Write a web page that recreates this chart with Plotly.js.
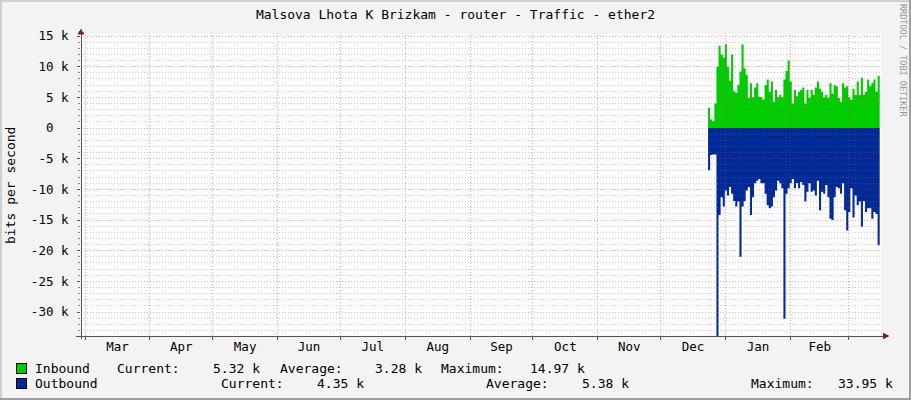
<!DOCTYPE html>
<html>
<head>
<meta charset="utf-8">
<script src="https://cdn.plot.ly/plotly-3.0.1.min.js"></script>
<style>
html,body{margin:0;padding:0;background:#f3f3f3;}
#chart{width:911px;height:400px;}
.shapelayer path{shape-rendering:crispEdges;}
</style>
</head>
<body>
<div id="chart"></div>
<script>
// ---- data (kbit/s, one sample per day) ----
const seriesStartUTC = [2012, 11, 23, 16]; // 2012-12-23 16:00
const inbound = [3.3,1.4,1.1,4.0,10.0,13.4,12.0,11.5,13.6,10.0,
  7.7,12.0,6.0,5.7,7.0,9.2,13.6,9.7,8.7,4.9,
  7.3,5.0,6.6,7.3,5.1,5.0,4.6,7.0,7.9,5.9,
  7.6,4.3,6.2,5.0,5.4,5.0,7.9,9.3,11.0,7.6,
  4.0,6.2,5.2,5.9,6.2,6.6,4.0,6.2,4.9,6.2,
  5.4,6.6,7.6,6.4,5.9,5.0,5.4,4.9,7.3,5.6,
  7.0,6.8,4.9,4.3,7.3,6.6,6.8,5.0,4.6,6.4,
  5.4,7.6,5.4,8.2,5.4,5.9,7.9,6.8,7.3,7.9,
  5.9,8.5,5.3];
const outbound = [-6.9,-4.4,-4.3,-4.3,-33.9,-14.2,-11.3,-12.8,-10.2,-11.0,
  -9.6,-10.7,-11.9,-12.8,-12.0,-21.0,-12.8,-11.9,-10.2,-9.6,
  -14.2,-11.3,-9.0,-8.6,-8.3,-9.0,-9.0,-10.7,-12.6,-13.1,
  -12.8,-11.3,-10.2,-8.6,-9.0,-9.8,-31.1,-10.7,-9.8,-9.0,
  -8.3,-9.8,-9.0,-9.8,-8.8,-9.3,-12.0,-10.4,-9.0,-10.4,
  -10.2,-11.0,-8.6,-13.4,-10.4,-10.7,-9.3,-11.3,-14.8,-15.0,
  -11.3,-9.6,-9.8,-10.7,-9.0,-13.4,-16.7,-13.7,-9.8,-14.6,
  -11.0,-12.6,-12.0,-16.1,-11.9,-13.7,-13.1,-13.1,-14.8,-13.7,
  -14.0,-19.1,-14.8];
const monthLabels = ['Mar','Apr','May','Jun','Jul','Aug','Sep','Oct','Nov','Dec','Jan','Feb'];
const firstMonth = [2012, 2]; // March 2012
const yTickVals = [15,10,5,0,-5,-10,-15,-20,-25,-30];
const yTickText = ['15 k','10 k','5 k','0\u00a0\u00a0','-5 k','-10 k','-15 k','-20 k','-25 k','-30 k'];
const titleText = 'Malsova Lhota K Brizkam - router - Traffic - ether2';
const yTitle = 'bits per second';
const legendRows = [
  {name:'Inbound',  color:'#00cc00', items:[['Current:','5.32 k'],['Average:','3.28 k'],['Maximum:','14.97 k']]},
  {name:'Outbound', color:'#002a97', items:[['Current:','4.35 k'],['Average:','5.38 k'],['Maximum:','33.95 k']]}
];

// ---- layout geometry ----
const W = 911, H = 400, L = 81, R = 881, T = 34, B = 336;
const PW = R - L, PH = B - T;
const px = v => (v - L) / PW;
const py = v => (B - v) / PH;
const xRange = ['2012-02-28 02:10:00', '2013-03-16 07:00:00'];
const yRange = [-33.91, 15.33];
const iso = d => d.toISOString().slice(0, 19).replace('T', ' ');

const times = inbound.map((_, i) =>
  iso(new Date(Date.UTC(seriesStartUTC[0], seriesStartUTC[1], seriesStartUTC[2] + i, seriesStartUTC[3]))));

// month boundaries and mid-month label positions
const monthStarts = [], monthMids = [];
for (let m = 0; m <= monthLabels.length; m++) {
  const a = Date.UTC(firstMonth[0], firstMonth[1] + m, 1);
  monthStarts.push(iso(new Date(a)));
  if (m < monthLabels.length) {
    const b = Date.UTC(firstMonth[0], firstMonth[1] + m + 1, 1);
    monthMids.push(iso(new Date((a + b) / 2)));
  }
}

const traces = [
  {x: times, y: inbound, type: 'scatter', mode: 'lines', fill: 'tozeroy',
   fillcolor: '#00cc00', line: {shape: 'hv', width: 0, color: '#00cc00'}, hoverinfo: 'skip', showlegend: false},
  {x: times, y: outbound, type: 'scatter', mode: 'lines', fill: 'tozeroy',
   fillcolor: '#002a97', line: {shape: 'hv', width: 0, color: '#002a97'}, hoverinfo: 'skip', showlegend: false}
];

const shapes = [];
// horizontal grid (above data, rrdtool style)
for (let k = Math.ceil(yRange[0]); k <= Math.floor(yRange[1]); k++) {
  const major = (k % 5 === 0);
  shapes.push({type: 'line', xref: 'paper', yref: 'y', x0: 0, x1: 1, y0: k, y1: k, layer: 'above',
    line: {color: major ? 'rgba(235,40,40,0.42)' : 'rgba(120,120,120,0.38)', width: 1, dash: '1px,2px'}});
}
// vertical grid at month starts
monthStarts.forEach(s => {
  shapes.push({type: 'line', xref: 'x', yref: 'paper', x0: s, x1: s, y0: 0, y1: 1, layer: 'above',
    line: {color: 'rgba(235,40,40,0.42)', width: 1, dash: '1px,2px'}});
});
// axis lines
shapes.push({type: 'line', xref: 'paper', yref: 'paper', x0: px(76), x1: px(884), y0: 0, y1: 0, layer: 'above', line: {color: '#555555', width: 1}});
shapes.push({type: 'line', xref: 'paper', yref: 'paper', x0: 0, x1: 0, y0: py(339), y1: py(31), layer: 'above', line: {color: '#555555', width: 1}});
// arrows
shapes.push({type: 'path', xref: 'paper', yref: 'paper', layer: 'above',
  path: `M ${px(78)},${py(34)} L ${px(81)},${py(29)} L ${px(84)},${py(34)} Z`,
  fillcolor: '#7f1f1f', line: {color: '#7f1f1f', width: 0.5}});
shapes.push({type: 'path', xref: 'paper', yref: 'paper', layer: 'above',
  path: `M ${px(883)},${py(333)} L ${px(889)},${py(336)} L ${px(883)},${py(339)} Z`,
  fillcolor: '#7f1f1f', line: {color: '#7f1f1f', width: 0.5}});
// frame
const frameRect = (x0, y0, x1, y1, c) => shapes.push({type: 'rect', xref: 'paper', yref: 'paper', layer: 'above',
  x0: px(x0), x1: px(x1), y0: py(y0), y1: py(y1), fillcolor: c, line: {width: 0}});
frameRect(0, 0, 911, 2, '#cfcfcf');
frameRect(0, 0, 2, 400, '#cfcfcf');
frameRect(909, 0, 911, 400, '#9e9e9e');
frameRect(0, 397.5, 911, 400, '#9e9e9e');

const annotations = [];
const mono = 'DejaVu Sans Mono, monospace';
const ann = (text, x, y, o = {}) => annotations.push(Object.assign({
  text, xref: 'paper', yref: 'paper', x: px(x), y: py(y), showarrow: false,
  xanchor: 'left', yanchor: 'middle', borderpad: 0,
  font: {family: mono, size: 13, color: '#000'}}, o));

// legend
const legendX = [[116.2, 212, 278.9, 373.6, 440.4, 528.7], [219.6, 315.5, 485.1, 581, 749.5, 836.6]];
const legendY = [368.6, 383.5];
legendRows.forEach((row, r) => {
  const y = legendY[r];
  shapes.push({type: 'rect', xref: 'paper', yref: 'paper', layer: 'above',
    x0: px(16.5), x1: px(26.5), y0: py(y - 5), y1: py(y + 5), fillcolor: row.color, line: {color: '#000', width: 1}});
  ann(row.name, 34.3, y);
  row.items.forEach((it, j) => {
    ann(it[0], legendX[r][j * 2], y);
    ann(it[1], legendX[r][j * 2 + 1], y);
  });
});
// y title
ann(yTitle, 10, 186, {textangle: -90, xanchor: 'center'});
// watermark
ann('RRDTOOL / TOBI OETIKER', 903, 60, {textangle: 90, xanchor: 'center',
  font: {family: mono, size: 8.5, color: '#989898'}});

const layout = {
  width: W, height: H,
  margin: {l: L, r: W - R, t: T, b: H - B, pad: 0},
  paper_bgcolor: '#f3f3f3', plot_bgcolor: '#ffffff',
  title: {text: titleText, font: {family: mono, size: 13, color: '#000'},
    x: 0.5, xref: 'container', xanchor: 'center', y: 1 - 14 / H, yref: 'container', yanchor: 'middle'},
  showlegend: false,
  xaxis: {type: 'date', range: xRange, tickmode: 'array', tickvals: monthMids, ticktext: monthLabels,
    ticks: '', ticklabelstandoff: 1,
    minor: {tickmode: 'array', tickvals: monthStarts, ticks: 'outside', ticklen: 3, tickcolor: '#555', tickwidth: 1, showgrid: false},
    showgrid: false, zeroline: false, showline: false, fixedrange: true,
    tickfont: {family: mono, size: 12.5, color: '#000'}},
  yaxis: {range: yRange, tickmode: 'array', tickvals: yTickVals, ticktext: yTickText,
    ticks: 'outside', ticklen: 3, tickcolor: '#555', tickwidth: 1,
    minor: {tick0: 0, dtick: 1, ticks: 'outside', ticklen: 2, tickcolor: '#888', showgrid: false},
    showgrid: false, zeroline: false, showline: false, fixedrange: true,
    ticklabelstandoff: 6,
    tickfont: {family: mono, size: 12.5, color: '#000'}},
  shapes, annotations
};

Plotly.newPlot('chart', traces, layout, {staticPlot: true, displayModeBar: false});
</script>
</body>
</html>
